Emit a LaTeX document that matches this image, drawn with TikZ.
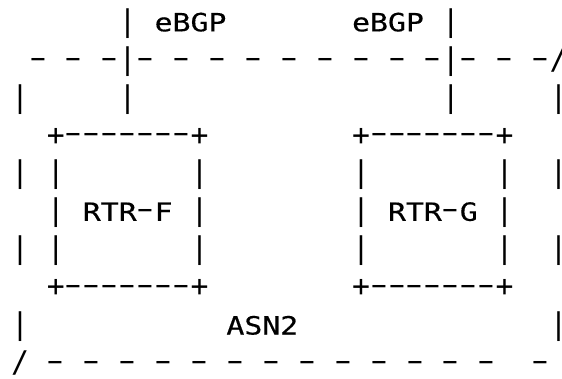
\documentclass[tikz,border=0pt]{standalone}
\usepackage{fontspec}
\newfontfamily\barfont[Ligatures=TeXOff]{DejaVu Sans Mono}
\newfontfamily\txtfont[FakeStretch=1.188,FakeBold=0.4,Ligatures=TeXOff]{DejaVu Sans Mono}
\newfontfamily\dashfont[FakeStretch=1.72,Ligatures=TeXOff]{DejaVu Sans}
\newlength\cw \setlength\cw{17.95pt}
\newcommand\hy{\makebox[\cw][c]{\raisebox{2.2pt}{\dashfont\fontsize{28.7}{28}\selectfont-}}}
\newcommand\pl{\makebox[\cw][c]{\barfont\fontsize{29.81}{30}\selectfont+}}
\newcommand\sk{\hspace*{\cw}}
\begin{document}
\begin{tikzpicture}[x=1pt,y=-1pt,
  declare function={cx(\c)=20+17.95*\c; lx(\c)=11.03+17.95*\c; by(\r)=31.3+37.9*\r;},
  barch/.style={font=\barfont\fontsize{29.81}{30}\selectfont, inner sep=0pt, outer sep=0pt, anchor=base},
  run/.style={font=\txtfont\fontsize{25.1}{25}\selectfont, inner sep=0pt, outer sep=0pt, anchor=base west},
]
\useasboundingbox[fill=white] (0,0) rectangle (562,378);
% row 0
\node[barch] (b0-6) at ({cx(6)},{by(0)}) {|};
\node[run] (e1) at ({lx(8)},{by(0)}) {eBGP};
\node[run] (e2) at ({lx(19)},{by(0)}) {eBGP};
\node[barch] (b0-24) at ({cx(24)},{by(0)}) {|};
% row 1
\node[run] (d1a) at ({lx(1)},{by(1)}) {\hy\sk\hy\sk\hy};
\node[barch] (b1-6) at ({cx(6)},{by(1)}) {|};
\node[run] (d1b) at ({lx(7)},{by(1)}) {\hy\sk\hy\sk\hy\sk\hy\sk\hy\sk\hy\sk\hy\sk\hy\sk\hy};
\node[barch] (b1-24) at ({cx(24)},{by(1)}) {|};
\node[run] (d1c) at ({lx(25)},{by(1)}) {\hy\sk\hy\sk\hy};
\node[barch] (s1-30) at ({cx(30)},{by(1)}) {\makebox[0pt]{/}};
% row 2
\foreach \c in {0,6,24} \node[barch] (b2-\c) at ({cx(\c)},{by(2)}) {|};
\node[barch] (b2-30) at ({cx(30)},{by(2)}) {\makebox[0pt]{|}};
% row 3
\node[run] (tF) at ({lx(2)},{by(3)}) {\pl\hy\hy\hy\hy\hy\hy\hy\pl};
\node[run] (tG) at ({lx(19)},{by(3)}) {\pl\hy\hy\hy\hy\hy\hy\hy\pl};
% row 4
\foreach \c in {0,2,10,19,27} \node[barch] (b4-\c) at ({cx(\c)},{by(4)}) {|};
\node[barch] (b4-30) at ({cx(30)},{by(4)}) {\makebox[0pt]{|}};
% row 5
\foreach \c in {2,10,19,27} \node[barch] (b5-\c) at ({cx(\c)},{by(5)}) {|};
\node[run] (rF) at ({lx(4)},{by(5)}) {RTR\hy F};
\node[run] (rG) at ({lx(21)},{by(5)}) {RTR\hy G};
% row 6
\foreach \c in {0,2,10,19,27} \node[barch] (b6-\c) at ({cx(\c)},{by(6)}) {|};
\node[barch] (b6-30) at ({cx(30)},{by(6)}) {\makebox[0pt]{|}};
% row 7
\node[run] (uF) at ({lx(2)},{by(7)}) {\pl\hy\hy\hy\hy\hy\hy\hy\pl};
\node[run] (uG) at ({lx(19)},{by(7)}) {\pl\hy\hy\hy\hy\hy\hy\hy\pl};
% row 8
\node[barch] (b8-0) at ({cx(0)},{by(8)}) {|};
\node[barch] (b8-30) at ({cx(30)},{by(8)}) {\makebox[0pt]{|}};
\node[run] (asn) at ({lx(12)},{by(8)}) {ASN2};
% row 9
\node[barch] (s9-0) at ({cx(0)},{by(9)}) {/};
\node[run] (d9a) at ({lx(2)},{by(9)}) {\hy\sk\hy\sk\hy\sk\hy\sk\hy\sk\hy\sk\hy\sk\hy\sk\hy\sk\hy\sk\hy\sk\hy\sk\hy};
\node[run] (d9b) at ({lx(29)},{by(9)}) {\hy};
\end{tikzpicture}
\end{document}
